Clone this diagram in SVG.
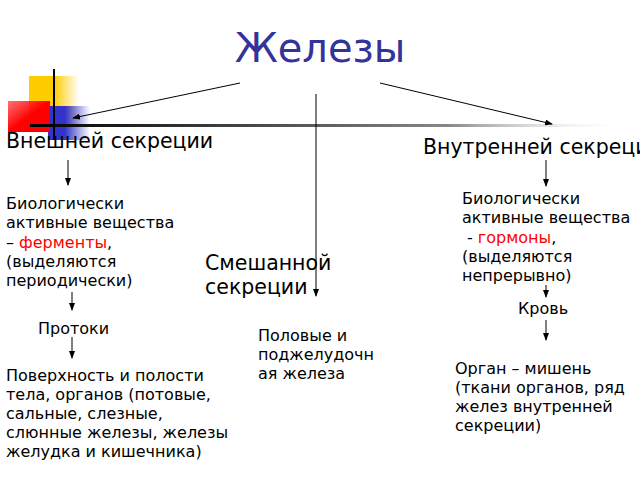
<svg xmlns="http://www.w3.org/2000/svg" width="640" height="480" viewBox="0 0 640 480">
<defs>
<marker id="a" markerWidth="8" markerHeight="6" refX="7" refY="3" orient="auto" markerUnits="userSpaceOnUse"><path d="M0,0L8,3L0,6z" fill="#000"/></marker>
<linearGradient id="gy" x1="0" x2="1"><stop offset="0.5" stop-color="#ffcc00"/><stop offset="1" stop-color="#ffcc00" stop-opacity="0"/></linearGradient>
<linearGradient id="gr" x1="0" x2="1" y1="0" y2="1"><stop offset="0" stop-color="#ff3333" stop-opacity="0.7"/><stop offset="0.5" stop-color="#ff0000"/></linearGradient>
<linearGradient id="gb" x1="0" x2="1"><stop offset="0.4" stop-color="#3333cc"/><stop offset="1" stop-color="#3333cc" stop-opacity="0"/></linearGradient>
<linearGradient id="gl" x1="0" x2="1"><stop offset="0" stop-color="#000"/><stop offset="0.7" stop-color="#888"/><stop offset="1" stop-color="#fff" stop-opacity="0"/></linearGradient>
<style>
text{font-family:"DejaVu Sans",sans-serif;font-size:16px;fill:#000}
.h{font-size:20.5px}
.c{stroke:#000;stroke-width:1;fill:none;marker-end:url(#a)}
.r{fill:#ff0000}
</style>
</defs>
<g id="decor">
<rect x="29" y="76" width="50" height="50" fill="url(#gy)"/>
<rect x="48" y="106" width="42" height="34" fill="url(#gb)"/>
<rect x="8" y="101" width="42" height="31" fill="url(#gr)"/>
<rect x="30" y="124" width="600" height="3" fill="url(#gl)"/>
<line x1="54" y1="69" x2="54" y2="140" stroke="#000" stroke-width="2"/>
</g>
<g id="title"><text x="320" y="62" text-anchor="middle" style="font-size:40px;fill:#333399">Железы</text></g>
<g id="connectors">
<path class="c" d="M240,83L73,118"/>
<path class="c" d="M380,83L552,124"/>
<path class="c" d="M316,94L316,296"/>
<path class="c" d="M68,160L68,185"/>
<path class="c" d="M546,160L546,186"/>
<path class="c" d="M72,292L72,310"/>
<path class="c" d="M72,337L72,358"/>
<path class="c" d="M546,285L546,297"/>
<path class="c" d="M546,320L546,340"/>
</g>
<g id="n1"><text class="h" x="6" y="148">Внешней секреции</text></g>
<g id="n2"><text class="h" x="423" y="154">Внутренней секреции</text></g>
<g id="n3"><text class="h" x="205" y="270">Смешанной</text><text class="h" x="205" y="294">секреции</text></g>
<g id="n4"><text x="6" y="209">Биологически</text><text x="6" y="228">активные вещества</text><text x="6" y="248">– <tspan class="r">ферменты</tspan>,</text><text x="6" y="267">(выделяются</text><text x="6" y="286">периодически)</text></g>
<g id="n5"><text x="462" y="204">Биологически</text><text x="462" y="223">активные вещества</text><text x="467" y="243">- <tspan class="r">гормоны</tspan>,</text><text x="462" y="262">(выделяются</text><text x="462" y="281">непрерывно)</text></g>
<g id="n6"><text x="38" y="334">Протоки</text></g>
<g id="n7"><text x="518" y="314">Кровь</text></g>
<g id="n8"><text x="258" y="341">Половые и</text><text x="258" y="360">поджелудочн</text><text x="258" y="379">ая железа</text></g>
<g id="n9"><text x="6" y="381">Поверхность и полости</text><text x="6" y="400">тела, органов (потовые,</text><text x="6" y="419">сальные, слезные,</text><text x="6" y="438">слюнные железы, железы</text><text x="6" y="457">желудка и кишечника)</text></g>
<g id="n10"><text x="455" y="374">Орган – мишень</text><text x="455" y="393">(ткани органов, ряд</text><text x="455" y="412">желез внутренней</text><text x="455" y="431">секреции)</text></g>
</svg>
